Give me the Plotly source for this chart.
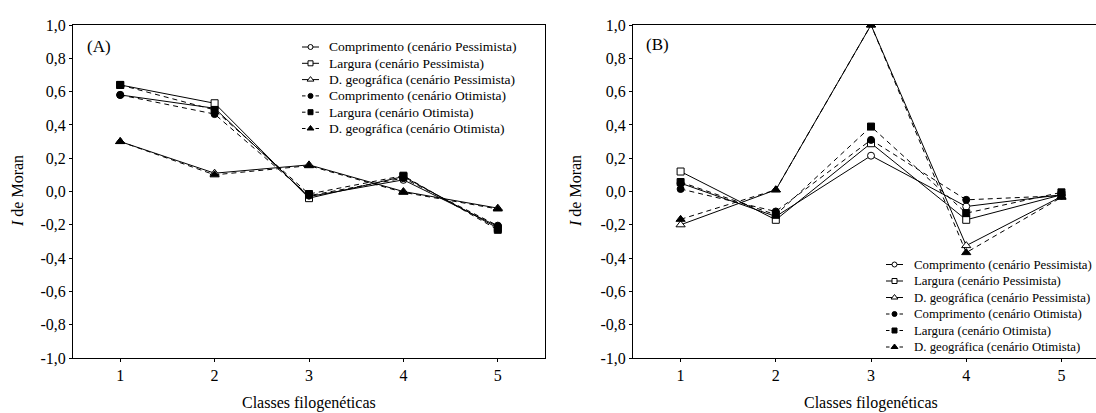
import plotly.graph_objects as go

classes = [1, 2, 3, 4, 5]

# Panel A
a_comp_pess = [0.58, 0.50, -0.03, 0.07, -0.21]
a_larg_pess = [0.64, 0.53, -0.04, 0.09, -0.22]
a_geo_pess = [0.30, 0.11, 0.16, 0.00, -0.10]
a_comp_otim = [0.58, 0.465, -0.025, 0.08, -0.205]
a_larg_otim = [0.64, 0.49, -0.015, 0.095, -0.23]
a_geo_otim = [0.30, 0.10, 0.155, -0.005, -0.105]

# Panel B
b_comp_pess = [0.05, -0.15, 0.215, -0.09, -0.02]
b_larg_pess = [0.12, -0.17, 0.29, -0.17, -0.02]
b_geo_pess = [-0.20, 0.01, 1.00, -0.325, -0.03]
b_comp_otim = [0.015, -0.12, 0.31, -0.05, -0.025]
b_larg_otim = [0.057, -0.14, 0.39, -0.13, -0.005]
b_geo_otim = [-0.167, 0.01, 1.00, -0.367, -0.035]

names = [
    "Comprimento (cenário Pessimista)",
    "Largura (cenário Pessimista)",
    "D. geográfica (cenário Pessimista)",
    "Comprimento (cenário Otimista)",
    "Largura (cenário Otimista)",
    "D. geográfica (cenário Otimista)",
]

y_tickvals = [-1.0, -0.8, -0.6, -0.4, -0.2, 0.0, 0.2, 0.4, 0.6, 0.8, 1.0]
y_ticktext = ["-1,0", "-0,8", "-0,6", "-0,4", "-0,2", "0,0", "0,2", "0,4", "0,6", "0,8", "1,0"]

FONT = "Liberation Serif"
W, H = 1096, 413

symbols = ["circle", "square", "triangle-up", "circle", "square", "triangle-up"]
fills = ["white", "white", "white", "black", "black", "black"]
dashes = ["solid", "solid", "solid", "5px,4px", "5px,4px", "5px,4px"]
sizes = [7, 7, 8, 7, 7, 8]
leg_sizes = [5, 5, 6, 5, 5, 6]

fig = go.Figure()

panelA = [a_comp_pess, a_larg_pess, a_geo_pess, a_comp_otim, a_larg_otim, a_geo_otim]
panelB = [b_comp_pess, b_larg_pess, b_geo_pess, b_comp_otim, b_larg_otim, b_geo_otim]

for xa, ya, panel in (("x", "y", panelA), ("x2", "y2", panelB)):
    for i, vals in enumerate(panel):
        fig.add_trace(go.Scatter(
            x=classes, y=vals, name=names[i], mode="lines+markers",
            line=dict(color="black", width=1, dash=dashes[i]),
            marker=dict(symbol=symbols[i], size=sizes[i], color=fills[i],
                        line=dict(color="black", width=1)),
            xaxis=xa, yaxis=ya, showlegend=False,
        ))

# ---- Manual legends (drawn on a pixel-space overlay axis) ----
legend_specs = [
    # (sample left x, text left x, first row y, row spacing, font size)
    (302, 327, 47, 16.3, 13.5),
    (886, 912, 264.5, 16.5, 12.8),
]
SAMPLE_W = 17
annotations = []
for (sx, tx, ry, dy, fs) in legend_specs:
    for i in range(6):
        yy = ry + i * dy
        if dashes[i] == "solid":
            lx = [sx, sx + SAMPLE_W]
            ly = [yy, yy]
        else:
            lx = [sx, sx + 3.5, None, sx + SAMPLE_W - 3.5, sx + SAMPLE_W]
            ly = [yy, yy, None, yy, yy]
        fig.add_trace(go.Scatter(
            x=lx, y=ly, mode="lines", line=dict(color="black", width=1),
            xaxis="x3", yaxis="y3", showlegend=False, hoverinfo="skip",
        ))
        fig.add_trace(go.Scatter(
            x=[sx + SAMPLE_W / 2], y=[yy], mode="markers",
            marker=dict(symbol=symbols[i], size=leg_sizes[i], color=fills[i],
                        line=dict(color="black", width=1)),
            xaxis="x3", yaxis="y3", showlegend=False, hoverinfo="skip",
        ))
        annotations.append(dict(
            text=names[i], x=tx / W, y=1 - yy / H, xref="paper", yref="paper",
            xanchor="left", yanchor="middle", showarrow=False,
            font=dict(family=FONT, size=fs, color="black"),
        ))

ydom = [1 - 358 / H, 1 - 25 / H]

common_x = dict(
    showline=True, linecolor="black", linewidth=1, mirror=True,
    ticks="outside", ticklen=3, tickcolor="black", tickwidth=1,
    tickvals=classes, ticktext=[str(c) for c in classes],
    showgrid=False, zeroline=False, automargin=False,
    tickfont=dict(family=FONT, size=16, color="black"),
)
common_y = dict(
    showline=True, linecolor="black", linewidth=1,
    ticks="outside", ticklen=3, tickcolor="black", tickwidth=1,
    tickvals=y_tickvals, ticktext=y_ticktext, range=[-1, 1],
    showgrid=False, zeroline=False, automargin=False, domain=ydom,
    tickfont=dict(family=FONT, size=16, color="black"),
)


def ann(text, x, y, size=16, angle=0):
    return dict(text=text, x=x / W, y=1 - y / H, xref="paper", yref="paper",
                xanchor="center", yanchor="middle", showarrow=False, textangle=angle,
                font=dict(family=FONT, size=size, color="black"))


annotations += [
    ann("(A)", 99.5, 46, 17),
    ann("(B)", 657, 44, 17),
    ann("<i>I</i> de Moran", 18, 191, 16, -90),
    ann("<i>I</i> de Moran", 576, 191, 16, -90),
    ann("Classes filogenéticas", 309, 403, 16),
    ann("Classes filogenéticas", 871, 403, 16),
]

fig.update_layout(
    width=W, height=H, autosize=False,
    margin=dict(l=0, r=0, t=0, b=0),
    paper_bgcolor="white", plot_bgcolor="rgba(0,0,0,0)",
    font=dict(family=FONT, color="black"),
    showlegend=False,
    xaxis=dict(domain=[73 / W, 545 / W], range=[0.5, 5.5], anchor="y", **common_x),
    yaxis=dict(anchor="x", mirror=True, **common_y),
    xaxis2=dict(domain=[633 / W, 1.0], range=[0.5, 5.363], anchor="y2", **common_x),
    yaxis2=dict(anchor="x2", mirror=False, **common_y),
    xaxis3=dict(domain=[0, 1], range=[0, W], visible=False, fixedrange=True, anchor="y3"),
    yaxis3=dict(domain=[0, 1], range=[H, 0], visible=False, fixedrange=True, anchor="x3"),
    annotations=annotations,
)

fig.write_html("out.html")
